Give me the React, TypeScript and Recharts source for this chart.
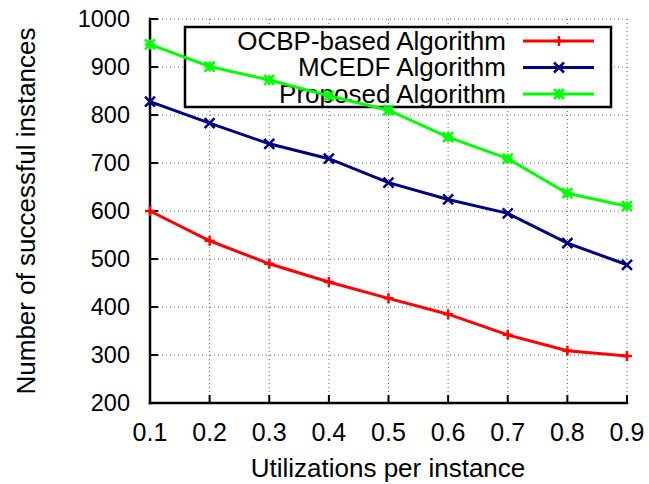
import { LineChart, Line, XAxis, YAxis, CartesianGrid, Customized } from 'recharts';

const utilizations = [0.1, 0.2, 0.3, 0.4, 0.5, 0.6, 0.7, 0.8, 0.9];
const ocbpValues = [600, 538, 490, 452, 418, 385, 342, 309, 298];
const mcedfValues = [828, 783, 740, 709, 659, 624, 595, 533, 488];
const proposedValues = [947, 901, 873, 840, 810, 754, 709, 637, 610];
const yTicks = [200, 300, 400, 500, 600, 700, 800, 900, 1000];
const seriesNames = ['OCBP-based Algorithm', 'MCEDF Algorithm', 'Proposed Algorithm'];
const seriesColors = ['#ff0000', '#000080', '#00ff00'];

const data = utilizations.map((u, i) => ({
  u,
  ocbp: ocbpValues[i],
  mcedf: mcedfValues[i],
  proposed: proposedValues[i],
}));

// marker paths, gnuplot style: +, x, *
const markerPath = (kind: number, cx: number, cy: number) => {
  const r = 5;
  const plus = `M${cx - r},${cy}H${cx + r}M${cx},${cy - r}V${cy + r}`;
  const cross = `M${cx - r},${cy - r}L${cx + r},${cy + r}M${cx - r},${cy + r}L${cx + r},${cy - r}`;
  if (kind === 0) return plus;
  if (kind === 1) return cross;
  return plus + cross;
};

const makeDot = (kind: number) => (props: any) => {
  const { cx, cy, stroke, index } = props;
  if (cx == null || cy == null) return <g key={index} />;
  return (
    <path key={index} d={markerPath(kind, cx, cy)} stroke={stroke} strokeWidth={2.5} fill="none" />
  );
};

const LegendBox = () => {
  const rowY = [41, 67.5, 94];
  return (
    <g>
      <rect x={185} y={27} width={426} height={80} fill="#fff" stroke="#000" strokeWidth={2.5} />
      {seriesNames.map((name, i) => (
        <g key={name}>
          <text x={506} y={rowY[i] + 8.5} textAnchor="end" fontSize={26} fill="#000">
            {name}
          </text>
          <line x1={523} x2={594} y1={rowY[i]} y2={rowY[i]} stroke={seriesColors[i]} strokeWidth={3} />
          <path d={markerPath(i, 559, rowY[i])} stroke={seriesColors[i]} strokeWidth={2.5} fill="none" />
        </g>
      ))}
    </g>
  );
};

const AxisTitles = () => (
  <g fill="#000">
    <text x={388} y={477} textAnchor="middle" fontSize={26}>
      Utilizations per instance
    </text>
    <text x={35} y={211} textAnchor="middle" fontSize={26} transform="rotate(-90 35 211)">
      Number of successful instances
    </text>
  </g>
);

const axisLine = { stroke: '#000', strokeWidth: 2.5, strokeLinecap: 'square' as const };
const tickLine = { stroke: '#000', strokeWidth: 2 };

export default function App() {
  return (
    <div style={{ position: 'absolute', left: 0, top: 0, fontFamily: '"Liberation Sans", Arial, sans-serif' }}>
      <LineChart width={649} height={484} data={data} margin={{ top: 19, right: 22, bottom: 0, left: 0 }}>
        <CartesianGrid
          xAxisId={0}
          yAxisId={0}
          stroke="#666"
          strokeDasharray="1 3"
          strokeWidth={1}
        />
        <Customized component={LegendBox} />
        <Customized component={AxisTitles} />
        <XAxis
          dataKey="u"
          type="number"
          domain={[0.1, 0.9]}
          ticks={utilizations}
          tickFormatter={(v: number) => v.toFixed(1)}
          height={81}
          axisLine={axisLine}
          tickLine={tickLine}
          tickSize={-8}
          tickMargin={28}
          tick={{ fill: '#000', fontSize: 25 }}
          interval={0}
        />
        <XAxis
          xAxisId="top"
          orientation="top"
          dataKey="u"
          type="number"
          domain={[0.1, 0.9]}
          ticks={utilizations}
          height={0}
          axisLine={axisLine}
          tickLine={tickLine}
          tickSize={-8}
          tick={false}
          interval={0}
        />
        <YAxis
          type="number"
          domain={[200, 1000]}
          ticks={yTicks}
          width={150}
          axisLine={axisLine}
          tickLine={tickLine}
          tickSize={-8}
          tickMargin={28}
          tick={{ fill: '#000', fontSize: 23.5 }}
          interval={0}
        />
        <YAxis
          yAxisId="right"
          orientation="right"
          type="number"
          domain={[200, 1000]}
          ticks={yTicks}
          width={0}
          axisLine={axisLine}
          tickLine={tickLine}
          tickSize={-8}
          tick={false}
          interval={0}
        />
        <Line
          dataKey="ocbp"
          stroke={seriesColors[0]}
          strokeWidth={3}
          dot={makeDot(0)}
          activeDot={false}
          isAnimationActive={false}
        />
        <Line
          dataKey="mcedf"
          stroke={seriesColors[1]}
          strokeWidth={3}
          dot={makeDot(1)}
          activeDot={false}
          isAnimationActive={false}
        />
        <Line
          dataKey="proposed"
          stroke={seriesColors[2]}
          strokeWidth={3}
          dot={makeDot(2)}
          activeDot={false}
          isAnimationActive={false}
        />
      </LineChart>
    </div>
  );
}
